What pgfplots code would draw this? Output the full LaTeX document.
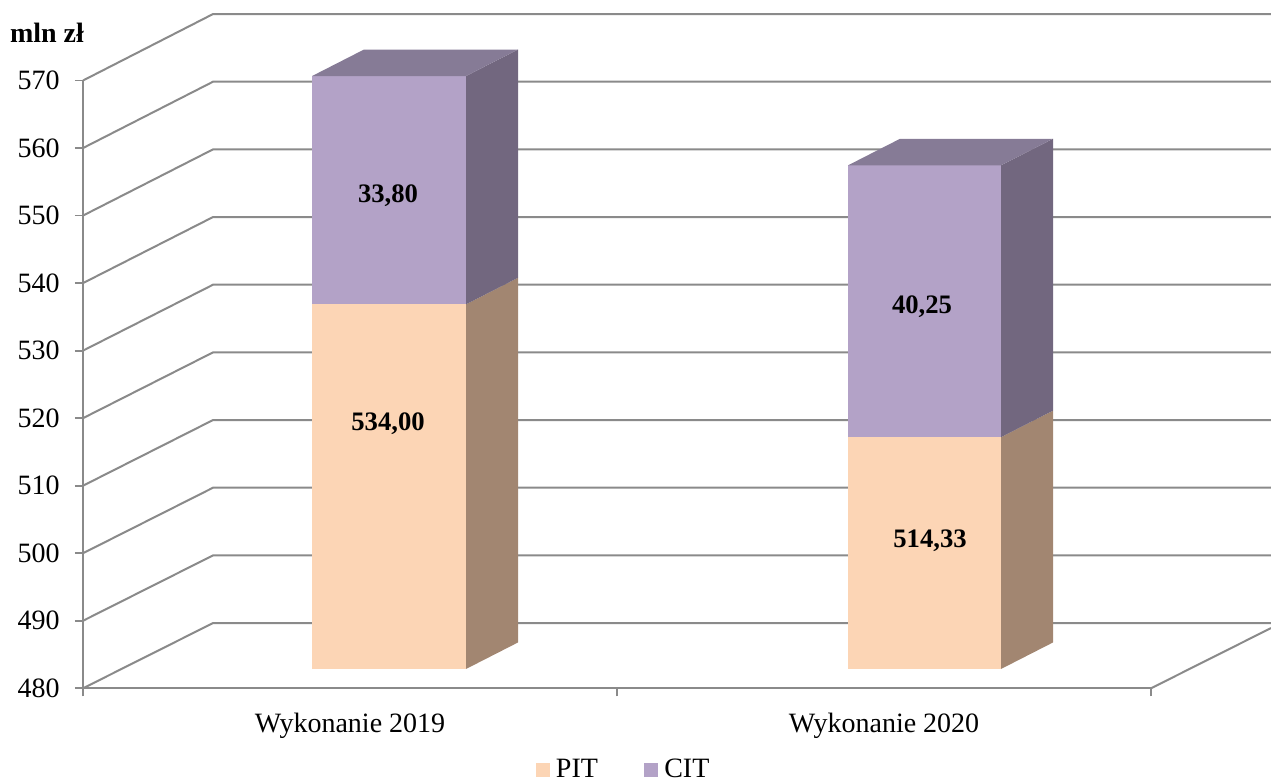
\documentclass[border=0pt]{standalone}
\usepackage{pgfplots}
\pgfplotsset{compat=1.18}
\usepackage{fontspec}
\setmainfont{Liberation Serif}
\definecolor{gridc}{HTML}{8A8A8A}
\definecolor{pitf}{HTML}{FCD5B5}
\definecolor{pits}{HTML}{A28671}
\definecolor{citf}{HTML}{B3A2C7}
\definecolor{citt}{HTML}{867B96}
\definecolor{cits}{HTML}{72677F}
\begin{document}
\begin{tikzpicture}
\useasboundingbox (-62.25pt,-67.275pt) rectangle (891pt,516.225pt);
\begin{axis}[
  scale only axis, width=801pt, height=455.85pt,
  xmin=83, xmax=1151, ymin=480, ymax=570,
  clip=false,
  axis x line*=bottom, axis y line*=left,
  axis line style={draw=gridc, line width=1.6pt, -},
  every tick/.style={draw=gridc, line width=1.3pt},
  tick align=outside, major tick length=6pt,
  xtick={83,617,1151}, xticklabels={},
  extra x ticks={350,884},
  extra x tick labels={Wykonanie 2019,Wykonanie 2020},
  extra x tick style={major tick length=0pt, tick label style={yshift=-15pt}},
  ytick={480,490,...,570},
  /pgf/number format/assume math mode=true,
  /pgf/number format/1000 sep={},
  tick label style={font=\fontsize{21}{24}\selectfont},
  yticklabel style={xshift=-8pt},
  legend columns=2,
  legend image code/.code={\fill[#1,draw=none] (0pt,-5.25pt) rectangle (10.5pt,5.25pt); \path[draw=none,fill=none] (0pt,0pt) -- (13pt,0pt);},
  legend style={draw=none, fill=none, at={(axis cs:624,467.95)}, anchor=center,
    font=\fontsize{21}{24}\selectfont, inner sep=0pt, outer sep=0pt,
    /tikz/every even column/.style={column sep=32.75pt}},
]
% gridlines: front tick -> back wall -> right edge
\addplot[gridc, line width=1.5pt, forget plot] coordinates {(83,480)(213,489.66)(1271,489.66)};
\addplot[gridc, line width=1.5pt, forget plot] coordinates {(83,490)(213,499.68)(1271,499.68)};
\addplot[gridc, line width=1.5pt, forget plot] coordinates {(83,500)(213,509.70)(1271,509.70)};
\addplot[gridc, line width=1.5pt, forget plot] coordinates {(83,510)(213,519.72)(1271,519.72)};
\addplot[gridc, line width=1.5pt, forget plot] coordinates {(83,520)(213,529.74)(1271,529.74)};
\addplot[gridc, line width=1.5pt, forget plot] coordinates {(83,530)(213,539.76)(1271,539.76)};
\addplot[gridc, line width=1.5pt, forget plot] coordinates {(83,540)(213,549.78)(1271,549.78)};
\addplot[gridc, line width=1.5pt, forget plot] coordinates {(83,550)(213,559.80)(1271,559.80)};
\addplot[gridc, line width=1.5pt, forget plot] coordinates {(83,560)(213,569.82)(1271,569.82)};
\addplot[gridc, line width=1.5pt, forget plot] coordinates {(83,570)(213,579.84)(1271,579.84)};
\addplot[gridc, line width=1.5pt, forget plot] coordinates {(1151,480)(1271,488.92)};
% bars: value 480 at the base of the front face, lifted 19.3 px by the depth of the plot
\addplot[draw=none, fill=pitf, yshift=14.475pt, forget plot] coordinates {(312,480)(466,480)(466,534)(312,534)} --cycle;
\addplot[draw=none, fill=pits, yshift=14.475pt, forget plot] coordinates {(466,480)(518,483.93)(518,537.93)(466,534)} --cycle;
\addplot[draw=none, fill=citf, yshift=14.475pt, forget plot] coordinates {(312,534)(466,534)(466,567.8)(312,567.8)} --cycle;
\addplot[draw=none, fill=cits, yshift=14.475pt, forget plot] coordinates {(466,534)(518,537.93)(518,571.73)(466,567.8)} --cycle;
\addplot[draw=none, fill=citt, yshift=14.475pt, forget plot] coordinates {(312,567.8)(466,567.8)(518,571.73)(364,571.73)} --cycle;
\addplot[draw=none, fill=pitf, yshift=14.475pt, forget plot] coordinates {(848,480)(1001,480)(1001,514.33)(848,514.33)} --cycle;
\addplot[draw=none, fill=pits, yshift=14.475pt, forget plot] coordinates {(1001,480)(1053,483.93)(1053,518.26)(1001,514.33)} --cycle;
\addplot[draw=none, fill=citf, yshift=14.475pt, forget plot] coordinates {(848,514.33)(1001,514.33)(1001,554.58)(848,554.58)} --cycle;
\addplot[draw=none, fill=cits, yshift=14.475pt, forget plot] coordinates {(1001,514.33)(1053,518.26)(1053,558.51)(1001,554.58)} --cycle;
\addplot[draw=none, fill=citt, yshift=14.475pt, forget plot] coordinates {(848,554.58)(1001,554.58)(1053,558.51)(900,558.51)} --cycle;
\addlegendimage{fill=pitf}
\addlegendentry{PIT}
\addlegendimage{fill=citf}
\addlegendentry{CIT}
\node[font=\fontsize{20}{24}\selectfont\bfseries] at (axis cs:388,552.9) {33,80};
\node[font=\fontsize{20}{24}\selectfont\bfseries] at (axis cs:388,519.2) {534,00};
\node[font=\fontsize{20}{24}\selectfont\bfseries] at (axis cs:922,536.55) {40,25};
\node[font=\fontsize{20}{24}\selectfont\bfseries] at (axis cs:930,501.9) {514,33};
\node[font=\fontsize{21}{24}\selectfont\bfseries] at (axis cs:47,577.1) {mln zł};
\end{axis}
\end{tikzpicture}
\end{document}
